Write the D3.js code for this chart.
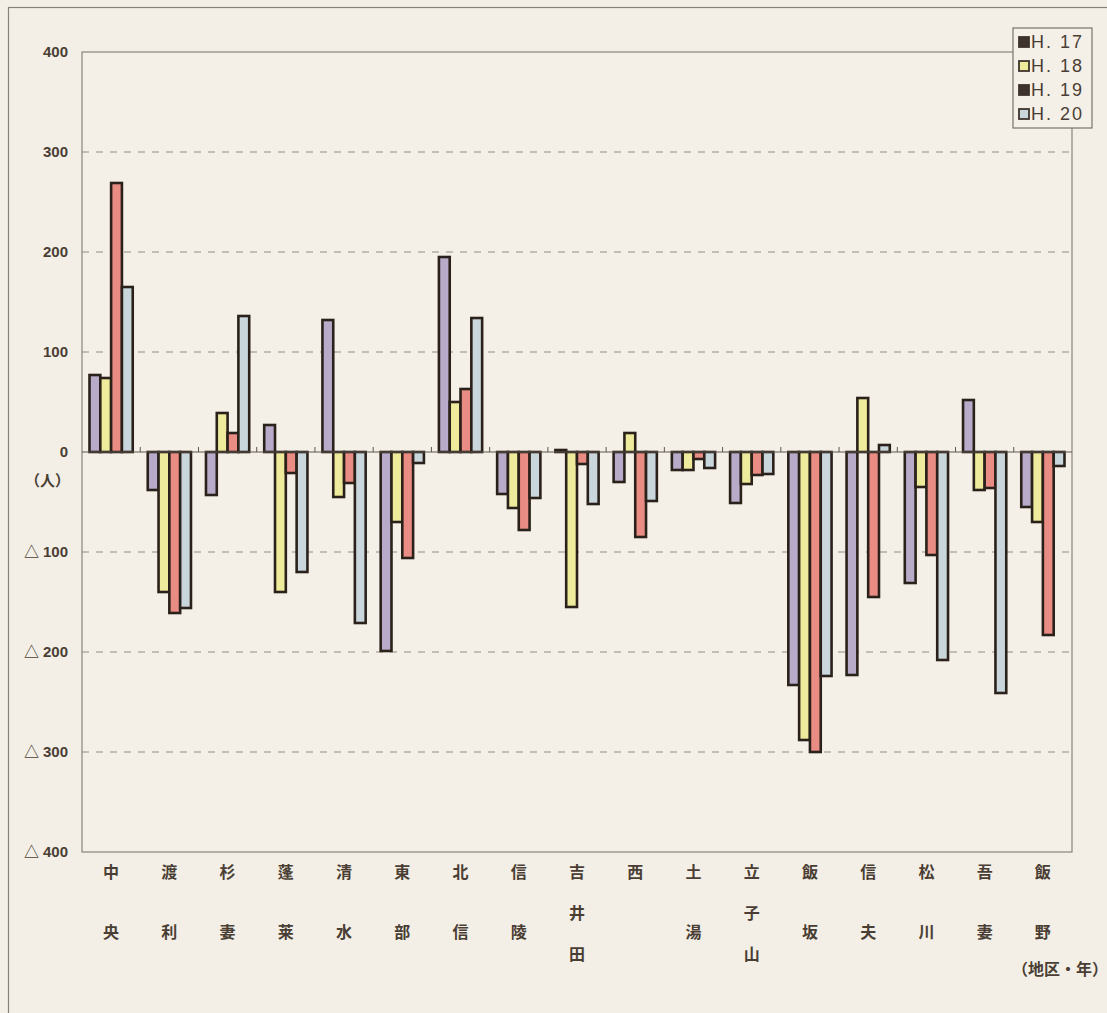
<!DOCTYPE html>
<html>
<head>
<meta charset="utf-8">
<script src="https://cdn.jsdelivr.net/npm/d3@7"></script>
<style>
  body { margin: 0; background: #f3efe6; }
  svg { display: block; }
</style>
</head>
<body>
<div id="chart"></div>
<script>
// districts, each label split into its characters (drawn vertically)
var districts = ['中央', '渡利', '杉妻', '蓬莱', '清水', '東部', '北信', '信陵', '吉井田', '西',
  '土湯', '立子山', '飯坂', '信夫', '松川', '吾妻', '飯野'];
var years = ['H. 17', 'H. 18', 'H. 19', 'H. 20'];

// change in population (人)
var h17 = [77, -38, -43, 27, 132, -199, 195, -42, 2, -30, -18, -51, -233, -223, -131, 52, -55];
var h18 = [74, -140, 39, -140, -45, -70, 50, -56, -155, 19, -18, -32, -288, 54, -35, -38, -70];
var h19 = [269, -161, 19, -21, -31, -106, 63, -78, -12, -85, -7, -23, -300, -145, -103, -36, -183];
var h20 = [165, -156, 136, -120, -171, -11, 134, -46, -52, -49, -16, -22, -224, 7, -208, -241, -14];

var yTicks = [400, 300, 200, 100, 0, -100, -200, -300, -400];

var series = [h17, h18, h19, h20];
var barColors = ['#b7abc9', '#efeb9c', '#e98c84', '#c9d6dc'];
var legendColors = ['#3d332c', '#efeb9c', '#3d332c', '#c9d6dc'];
var ink = '#4a3e34';

var width = 1107, height = 1013;
var plotL = 82, plotR = 1072, plotT = 52, plotB = 852;

var svg = d3.select('#chart').append('svg')
  .attr('width', width)
  .attr('height', height);

svg.append('rect')
  .attr('width', width).attr('height', height)
  .attr('fill', '#f3efe6');

// outer frame of the figure
svg.append('rect')
  .attr('x', 8.5).attr('y', 7.5)
  .attr('width', width + 20).attr('height', height + 20)
  .attr('fill', 'none')
  .attr('stroke', '#8a827a')
  .attr('stroke-width', 1.2);

var x0 = d3.scaleBand().domain(districts).range([plotL, plotR]).paddingInner(0).paddingOuter(0);
var x1 = d3.scaleBand().domain(d3.range(4)).range([7.5, x0.bandwidth() - 7.5]);
var y = d3.scaleLinear().domain([-400, 400]).range([plotB, plotT]);

// plot area
svg.append('rect')
  .attr('x', plotL).attr('y', plotT)
  .attr('width', plotR - plotL).attr('height', plotB - plotT)
  .attr('fill', '#f5f0e7')
  .attr('stroke', '#8a827a')
  .attr('stroke-width', 1.2);

// dashed gridlines
svg.append('g')
  .selectAll('line')
  .data(yTicks.filter(function (d) { return d !== 0 && Math.abs(d) !== 400; }))
  .join('line')
  .attr('x1', plotL).attr('x2', plotR)
  .attr('y1', function (d) { return y(d); })
  .attr('y2', function (d) { return y(d); })
  .attr('stroke', '#8f8983')
  .attr('stroke-width', 1.2)
  .attr('stroke-dasharray', '7,7');

// y tick labels
var yLabels = svg.append('g')
  .attr('font-family', 'Liberation Sans, Arial, sans-serif')
  .attr('font-size', '15px')
  .attr('font-weight', 'bold')
  .attr('fill', ink)
  .attr('text-anchor', 'end');

var yText = yLabels.selectAll('text')
  .data(yTicks)
  .join('text')
  .attr('x', 68)
  .attr('y', function (d) { return y(d) + 5; });

yText.filter(function (d) { return d < 0; })
  .append('tspan')
  .attr('font-family', 'Noto Sans CJK JP, sans-serif')
  .attr('font-size', '15px')
  .text('△');

yText.append('tspan')
  .attr('dx', function (d) { return d < 0 ? 4 : 0; })
  .text(function (d) { return Math.abs(d); });

svg.append('text')
  .attr('x', 70).attr('y', 486)
  .attr('text-anchor', 'end')
  .attr('font-family', 'Noto Sans CJK JP, sans-serif')
  .attr('font-size', '15px')
  .attr('font-weight', 'bold')
  .attr('fill', ink)
  .text('（人）');

// bars
var groups = svg.append('g')
  .selectAll('g')
  .data(districts)
  .join('g')
  .attr('transform', function (d) { return 'translate(' + x0(d) + ',0)'; });

groups.selectAll('rect')
  .data(function (d, i) { return series.map(function (s, k) { return { k: k, v: s[i] }; }); })
  .join('rect')
  .attr('x', function (d) { return x1(d.k); })
  .attr('width', x1.bandwidth())
  .attr('y', function (d) { return y(Math.max(0, d.v)); })
  .attr('height', function (d) { return Math.abs(y(d.v) - y(0)); })
  .attr('fill', function (d) { return barColors[d.k]; })
  .attr('stroke', '#2a211b')
  .attr('stroke-width', 2.6);

// zero line with small category ticks
svg.append('line')
  .attr('x1', plotL).attr('x2', plotR)
  .attr('y1', y(0)).attr('y2', y(0))
  .attr('stroke', '#5e564f')
  .attr('stroke-width', 1.2);

svg.append('g')
  .selectAll('line')
  .data(districts.slice(1))
  .join('line')
  .attr('x1', function (d) { return x0(d); })
  .attr('x2', function (d) { return x0(d); })
  .attr('y1', y(0)).attr('y2', y(0) - 5)
  .attr('stroke', '#5e564f')
  .attr('stroke-width', 1);

// category labels, one character per line
var catLabels = svg.append('g')
  .attr('font-family', 'Noto Sans CJK JP, sans-serif')
  .attr('font-size', '16px')
  .attr('font-weight', 'bold')
  .attr('fill', ink)
  .attr('text-anchor', 'middle');

catLabels.selectAll('g')
  .data(districts)
  .join('g')
  .each(function (d) {
    var chars = d.split('');
    var step = chars.length === 3 ? 41 : 60;
    d3.select(this).selectAll('text')
      .data(chars)
      .join('text')
      .attr('x', x0(d) + x0.bandwidth() / 2)
      .attr('y', function (c, i) { return 878 + i * step; })
      .text(function (c) { return c; });
  });

svg.append('text')
  .attr('x', 1060).attr('y', 975)
  .attr('text-anchor', 'middle')
  .attr('font-family', 'Noto Sans CJK JP, sans-serif')
  .attr('font-size', '16px')
  .attr('font-weight', 'bold')
  .attr('fill', ink)
  .text('（地区・年）');

// legend
var legend = svg.append('g').attr('transform', 'translate(1013,28)');

legend.append('rect')
  .attr('width', 79).attr('height', 100)
  .attr('fill', '#f5f0e7')
  .attr('stroke', '#7a726a')
  .attr('stroke-width', 1.2);

var items = legend.selectAll('g')
  .data(years)
  .join('g')
  .attr('transform', function (d, i) { return 'translate(6,' + (9 + i * 24) + ')'; });

items.append('rect')
  .attr('width', 10).attr('height', 10)
  .attr('fill', function (d, i) { return legendColors[i]; })
  .attr('stroke', '#3d332c')
  .attr('stroke-width', 1.8);

items.append('text')
  .attr('x', 12).attr('y', 11)
  .attr('font-family', 'Liberation Sans, Arial, sans-serif')
  .attr('font-size', '18px')
  .attr('letter-spacing', '2px')
  .attr('fill', ink)
  .text(function (d) { return d; });
</script>
</body>
</html>
